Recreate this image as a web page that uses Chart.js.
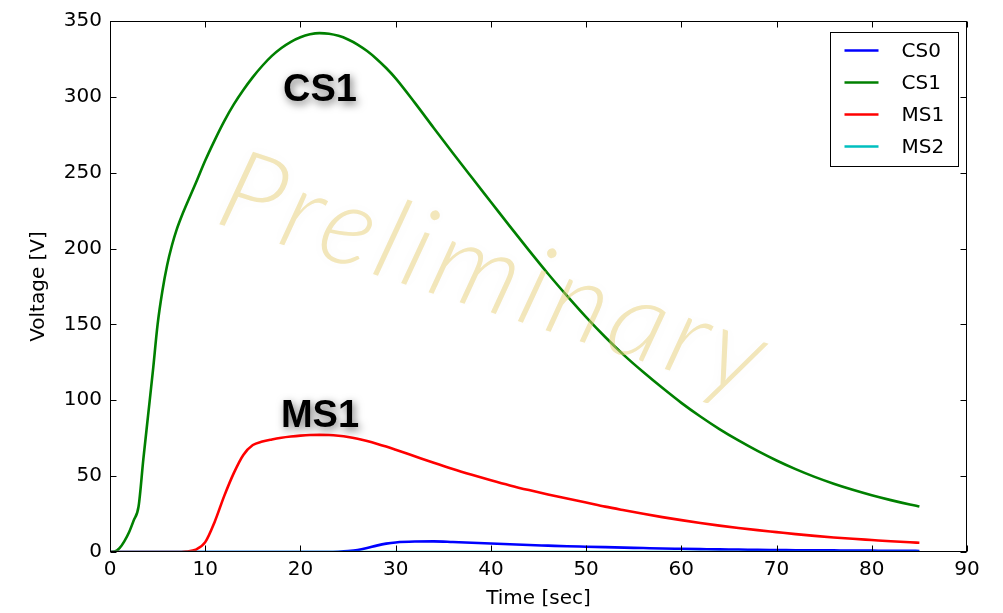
<!DOCTYPE html>
<html>
<head>
<meta charset="utf-8">
<script src="https://cdn.jsdelivr.net/npm/chart.js@4.4.1/dist/chart.umd.min.js"></script>
<style>
  html, body { margin: 0; padding: 0; background: #ffffff; }
  #wrap { width: 1003px; height: 613px; }
</style>
</head>
<body>
<div id="wrap"><canvas id="c" width="1003" height="613"></canvas></div>
<script>
// ---- data ----
const times = [0,0.5,1,1.5,2,2.5,3,3.5,4,4.5,5,5.5,6,6.5,7,7.5,8,
  9,10,11,12,13,14,15,16,17,18,19,20,21,22,23,24,25,26,27,28,29,30,
  32,34,36,38,40,42,44,46,48,50,52,54,56,58,60,62,64,66,68,70,72,74,76,78,80,82,84,
  85];

const cs0 = [0,0,0,0,0,0,0,0,0,0,0,0,0,0,0,0,0,
  0,0,0,0,0,0,0,0,0,0,0,0,0,0,0,0.2,0.6,1.3,2.6,4.2,5.5,6.3,
  6.9,7,6.6,6.1,5.6,5.1,4.6,4.2,3.8,3.5,3.2,2.9,2.6,2.3,2.1,1.9,1.7,1.6,1.4,1.3,1.2,1.1,1.05,1,0.9,0.8,0.75,
  0.7];

const cs1 = [0,0.3,2.5,7,13,21,30,61,90,119,150,172,189,202,212.5,221,228.5,
  243,258,271.5,284,295,304.5,313,320.5,327,332.2,336.3,339.3,341.2,342,341.6,340.2,337.8,334.5,330.2,325,319,312.2,
  296.2,279.5,263,246.8,230.7,214.6,198.8,183.4,168.8,154.8,141.7,129.6,118.6,108.2,98.3,89.3,81,73.5,66.6,60.3,54.6,49.5,45,41,37.4,34.2,31.3,
  30];

const ms1 = [0,0,0,0,0,0,0,0,0,0,0,0,0,0,0,0,0.3,
  1.5,6.5,20,37,52,64,70.5,72.8,74.2,75.3,76.1,76.7,77.1,77.2,77.1,76.6,75.8,74.6,73.1,71.4,69.5,67.4,
  63.1,58.8,54.7,50.9,47.3,43.9,40.8,37.9,35.2,32.6,29.9,27.5,25.2,23,21,19.1,17.4,15.8,14.4,13.1,11.8,10.6,9.6,8.7,7.9,7.1,6.4,
  6.1];

const ms2 = times.map(() => 0);

const seriesNames = ['CS0', 'CS1', 'MS1', 'MS2'];
const seriesColors = ['#0000ff', '#008000', '#ff0000', '#00bfbf'];
const xTicks = [0,10,20,30,40,50,60,70,80,90];
const yTicks = [0,50,100,150,200,250,300,350];
const labelNotes = [
  { text: 'CS1', t: 22.05, v: 304 },
  { text: 'MS1', t: 22.05, v: 89 }
];
const watermark = { text: 'Preliminary', t: 40.5, v: 182 };

// ---- build ----
const seriesValues = [cs0, cs1, ms1, ms2];
const datasets = seriesValues.map((vals, k) => ({
  label: seriesNames[k],
  data: times.map((t, i) => ({ x: t, y: vals[i] })),
  borderColor: seriesColors[k],
  backgroundColor: seriesColors[k],
  borderWidth: 2.6,
  pointRadius: 0,
  fill: false,
  cubicInterpolationMode: 'monotone',
  order: 4 - k
}));

const FONT = '"DejaVu Sans", sans-serif';

const framePlugin = {
  id: 'frame',
  afterDatasetsDraw(chart) {
    const ctx = chart.ctx;
    const xs = chart.scales.x, ys = chart.scales.y;
    // watermark
    ctx.save();
    const cx = xs.getPixelForValue(watermark.t), cy = ys.getPixelForValue(watermark.v);
    ctx.translate(cx, cy);
    ctx.rotate(18 * Math.PI / 180);
    ctx.font = 'italic 300 112px Lato, sans-serif';
    const w0 = ctx.measureText(watermark.text).width;
    const target = 565;
    const ls = (target - w0) / (watermark.text.length - 1);
    try { ctx.letterSpacing = ls.toFixed(1) + 'px'; } catch (e) {}
    ctx.textAlign = 'center';
    ctx.textBaseline = 'middle';
    ctx.shadowColor = 'rgba(0,0,0,0.06)';
    ctx.shadowBlur = 14;
    ctx.fillStyle = 'rgba(232,208,120,0.5)';
    ctx.fillText(watermark.text, 0, 0);
    ctx.restore();

    // annotations
    ctx.save();
    ctx.font = 'bold 38px "Liberation Sans", Arial, sans-serif';
    ctx.textAlign = 'center';
    ctx.textBaseline = 'middle';
    ctx.shadowColor = 'rgba(0,0,0,0.55)';
    ctx.shadowBlur = 9;
    ctx.shadowOffsetX = 2;
    ctx.shadowOffsetY = 3;
    ctx.fillStyle = '#000000';
    labelNotes.forEach(n => {
      ctx.fillText(n.text, xs.getPixelForValue(n.t), ys.getPixelForValue(n.v));
    });
    ctx.restore();
  },
  afterDraw(chart) {
    const ctx = chart.ctx;
    const a = chart.chartArea;
    const xs = chart.scales.x, ys = chart.scales.y;
    const L = Math.round(a.left) + 0.5, R = Math.round(a.right) - 0.5;
    const T = Math.round(a.top) + 0.5, B = Math.round(a.bottom) - 0.5;
    ctx.save();
    ctx.strokeStyle = '#000000';
    ctx.lineWidth = 1;
    ctx.strokeRect(L, T, R - L, B - T);
    const tl = 6;
    ctx.beginPath();
    xTicks.forEach(v => {
      const px = Math.round(xs.getPixelForValue(v)) + 0.5;
      ctx.moveTo(px, B); ctx.lineTo(px, B - tl);
      ctx.moveTo(px, T); ctx.lineTo(px, T + tl);
    });
    yTicks.forEach(v => {
      const py = Math.round(ys.getPixelForValue(v)) + 0.5;
      ctx.moveTo(L, py); ctx.lineTo(L + tl, py);
      ctx.moveTo(R, py); ctx.lineTo(R - tl, py);
    });
    ctx.stroke();

    // legend
    const bw = 128, bh = 134;
    const bx = Math.round(a.right) - 8.5 - bw, by = Math.round(a.top) + 11.5;
    ctx.fillStyle = '#ffffff';
    ctx.fillRect(bx, by, bw, bh);
    ctx.strokeStyle = '#000000';
    ctx.lineWidth = 1;
    ctx.strokeRect(bx, by, bw, bh);
    ctx.font = '20px ' + FONT;
    ctx.textAlign = 'left';
    ctx.textBaseline = 'middle';
    chart.data.datasets.forEach((ds, i) => {
      const y = by + 18 + i * 32;
      ctx.strokeStyle = ds.borderColor;
      ctx.lineWidth = 2.6;
      ctx.beginPath();
      ctx.moveTo(bx + 14, y); ctx.lineTo(bx + 48, y);
      ctx.stroke();
      ctx.fillStyle = '#000000';
      ctx.fillText(ds.label, bx + 71, y + 1);
    });
    ctx.restore();
  }
};

new Chart(document.getElementById('c'), {
  type: 'line',
  data: { datasets },
  options: {
    responsive: false,
    devicePixelRatio: 1,
    animation: false,
    events: [],
    layout: { padding: { left: 0, right: 36, top: 21, bottom: 0 } },
    plugins: { legend: { display: false }, tooltip: { enabled: false } },
    scales: {
      x: {
        type: 'linear',
        min: 0, max: 90,
        afterFit(s) { s.height = 61; },
        afterBuildTicks(s) { s.ticks = xTicks.map(v => ({ value: v })); },
        grid: { display: false, drawTicks: false },
        border: { display: false },
        ticks: { color: '#000', font: { family: FONT, size: 20 }, padding: 6, maxRotation: 0, autoSkip: false },
        title: { display: true, text: 'Time [sec]', color: '#000', font: { family: FONT, size: 20 }, padding: { top: 0, bottom: 2 } }
      },
      y: {
        type: 'linear',
        min: 0, max: 350,
        afterFit(s) { s.width = 110; },
        afterBuildTicks(s) { s.ticks = yTicks.map(v => ({ value: v })); },
        grid: { display: false, drawTicks: false },
        border: { display: false },
        ticks: { color: '#000', font: { family: FONT, size: 20 }, padding: 8, autoSkip: false },
        title: { display: true, text: 'Voltage [V]', color: '#000', font: { family: FONT, size: 20 }, padding: { top: 27, bottom: 0 } }
      }
    }
  },
  plugins: [framePlugin]
});
</script>
</body>
</html>
